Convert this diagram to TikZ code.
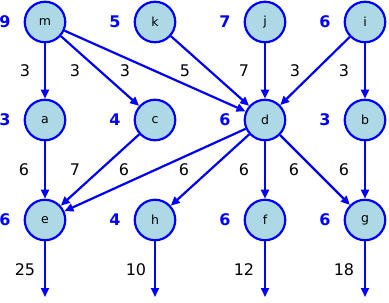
\documentclass[tikz,border=0pt]{standalone}
\usepackage{fontspec}
\setmainfont{DejaVu Sans}
\usetikzlibrary{arrows.meta}
\definecolor{vtxfill}{HTML}{ADD8E6}

\begin{document}
\begin{tikzpicture}[x=1pt,y=-1pt,
  vtx/.style={circle, draw=blue, fill=vtxfill, line width=2.2pt, minimum size=40.5pt, inner sep=0pt, font=\fontsize{12.5}{14}\selectfont},
  edge/.style={draw=blue, line width=2.2pt, -{Triangle[length=9pt,width=8pt]}},
  wt/.style={font=\fontsize{16}{18}\selectfont, text=black},
  cnt/.style={font=\fontsize{16}{18}\selectfont\bfseries, text=blue}]
\useasboundingbox (0,0) rectangle (389,303);
\node[vtx] (m) at (45,22) {m};
\node[vtx] (k) at (155,22) {k};
\node[vtx] (j) at (265,22) {j};
\node[vtx] (i) at (365,22) {i};
\node[vtx] (a) at (45,120) {a};
\node[vtx] (c) at (155,120) {c};
\node[vtx] (d) at (265,120) {d};
\node[vtx] (b) at (365,120) {b};
\node[vtx] (e) at (45,220) {e};
\node[vtx] (h) at (155,220) {h};
\node[vtx] (f) at (265,220) {f};
\node[vtx] (g) at (365,220) {g};
\node[cnt] (m-n) at (5,22) {9};
\node[cnt] (k-n) at (115,22) {5};
\node[cnt] (j-n) at (225,22) {7};
\node[cnt] (i-n) at (325,22) {6};
\node[cnt] (a-n) at (5,120) {3};
\node[cnt] (c-n) at (115,120) {4};
\node[cnt] (d-n) at (225,120) {6};
\node[cnt] (b-n) at (325,120) {3};
\node[cnt] (e-n) at (5,220) {6};
\node[cnt] (h-n) at (115,220) {4};
\node[cnt] (f-n) at (225,220) {6};
\node[cnt] (g-n) at (325,220) {6};
\coordinate (e-out) at (45,297);
\coordinate (h-out) at (155,297);
\coordinate (f-out) at (265,297);
\coordinate (g-out) at (365,297);
\draw[edge] (m) -- node[wt, xshift=-20pt] {3} (a);
\draw[edge] (m) -- node[wt, xshift=-25pt] {3} (c);
\draw[edge] (m) -- node[wt, xshift=-30pt] {3} (d);
\draw[edge] (k) -- node[wt, xshift=-25pt] {5} (d);
\draw[edge] (j) -- node[wt, xshift=-21pt] {7} (d);
\draw[edge] (i) -- node[wt, xshift=-20pt] {3} (d);
\draw[edge] (i) -- node[wt, xshift=-21pt] {3} (b);
\draw[edge] (a) -- node[wt, xshift=-21pt] {6} (e);
\draw[edge] (c) -- node[wt, xshift=-25pt] {7} (e);
\draw[edge] (d) -- node[wt, xshift=-31pt] {6} (e);
\draw[edge] (d) -- node[wt, xshift=-26pt] {6} (h);
\draw[edge] (d) -- node[wt, xshift=-21pt] {6} (f);
\draw[edge] (d) -- node[wt, xshift=-21pt] {6} (g);
\draw[edge] (b) -- node[wt, xshift=-21pt] {6} (g);
\draw[edge] (e) -- node[wt, xshift=-20pt] {25} (e-out);
\draw[edge] (h) -- node[wt, xshift=-19pt] {10} (h-out);
\draw[edge] (f) -- node[wt, xshift=-21pt] {12} (f-out);
\draw[edge] (g) -- node[wt, xshift=-21pt] {18} (g-out);
\end{tikzpicture}
\end{document}
